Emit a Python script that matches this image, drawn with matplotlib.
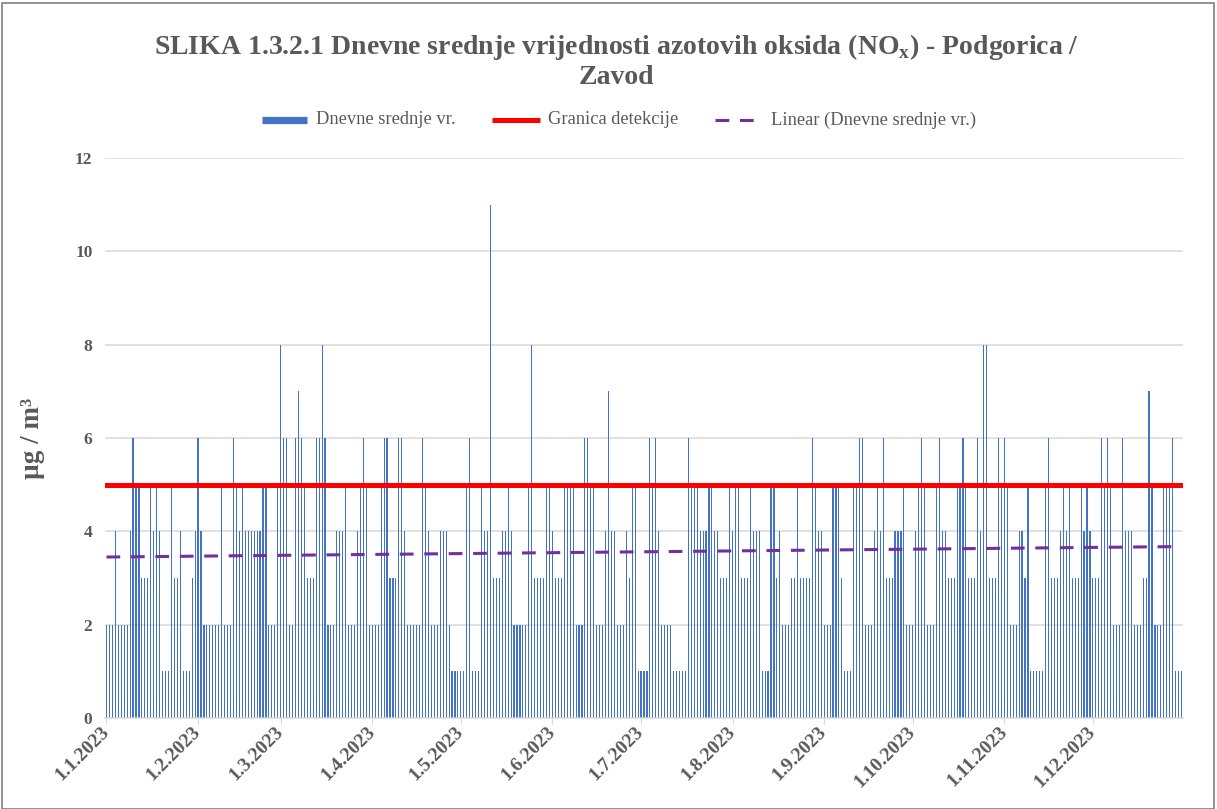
import numpy as np
import matplotlib
matplotlib.use("Agg")
import matplotlib.pyplot as plt
from matplotlib.lines import Line2D
from matplotlib.patches import Rectangle

plt.rcParams['font.family'] = ['Liberation Serif', 'DejaVu Serif']
plt.rcParams['mathtext.fontset'] = 'custom'
plt.rcParams['mathtext.rm'] = 'Liberation Serif'
plt.rcParams['mathtext.bf'] = 'Liberation Serif:bold'

# ---- data (daily means, µg/m3) ----
jan = [2,2,2,4,2,2,2,2,4,6,5,5,3,3,3,5,4,5,4,1,1,1,5,3,3,4,1,1,1,3,4]
feb = [6,4,2,2,2,2,2,2,5,2,2,2,6,5,4,5,4,4,4,4,4,4,5,5,2,2,2,5]
mar = [8,6,6,2,2,6,7,6,5,3,3,3,6,6,8,6,2,2,2,4,4,4,5,2,2,2,4,5,6,5,2]
apr = [2,2,2,5,6,6,3,3,3,6,6,4,2,2,2,2,2,6,5,4,2,2,2,4,4,4,2,1,1,1]
may = [1,1,5,6,1,1,1,5,4,4,11,3,3,3,4,4,5,4,2,2,2,2,2,5,8,3,3,3,3,5,5]
jun = [4,3,3,3,5,5,5,5,2,2,2,6,6,5,5,2,2,2,4,7,4,4,2,2,2,4,3,5,5,1]
jul = [1,1,1,6,5,6,4,2,2,2,2,1,1,1,1,1,6,5,5,5,4,4,4,5,5,4,4,3,3,3,5]
aug = [4,5,5,3,3,3,5,4,4,4,1,1,1,5,5,3,4,2,2,2,3,3,5,3,3,3,3,6,5,4,4]
sep = [2,2,2,5,5,5,3,1,1,1,5,5,6,6,2,2,2,4,5,4,6,3,3,3,4,4,4,5,2,2]
oct_ = [2,4,5,6,5,2,2,2,5,6,4,4,3,3,3,5,5,6,5,3,3,3,6,4,8,8,3,3,3,6,5]
nov = [6,5,2,2,2,4,4,3,5,1,1,1,1,1,5,6,3,3,3,4,5,4,5,3,3,3,5,4,5,4]
dec = [3,3,3,6,5,6,5,2,2,2,6,4,4,4,2,2,2,3,3,7,5,2,2,2,5,5,5,6,1,1,1]

months = [jan, feb, mar, apr, may, jun, jul, aug, sep, oct_, nov, dec]
values = np.array([v for m in months for v in m], dtype=float)
days = np.arange(len(values))

detection_limit = 5
tick_labels = ['1.1.2023', '1.2.2023', '1.3.2023', '1.4.2023', '1.5.2023', '1.6.2023',
               '1.7.2023', '1.8.2023', '1.9.2023', '1.10.2023', '1.11.2023', '1.12.2023']
month_lengths = [len(m) for m in months]
tick_pos = np.concatenate([[0], np.cumsum(month_lengths)[:-1]])

title_line1 = r'SLIKA 1.3.2.1 Dnevne srednje vrijednosti azotovih oksida (NO$_\mathbf{x}$) - Podgorica /'
title_line2 = 'Zavod'
legend_labels = ['Dnevne srednje vr.', 'Granica detekcije', 'Linear (Dnevne srednje vr.)']

BLUE = '#4472C4'
RED = '#FF0000'
PURPLE = '#7030A0'
GRAY = '#595959'
DASH = (0, (4.5, 3.5))

W, H = 1217, 809
fig = plt.figure(figsize=(W / 100, H / 100), dpi=100)
fig.patch.set_facecolor('white')

ax = fig.add_axes([105 / W, (H - 718) / H, 1078 / W, 560 / H])

ax.bar(days, values, width=0.38, color=BLUE, zorder=2, linewidth=0)
ax.axhline(detection_limit, color=RED, lw=3.6, zorder=3)
coef = np.polyfit(days, values, 1)
trend = np.polyval(coef, days)
ax.plot(days, trend, color=PURPLE, lw=2.2, ls=DASH, zorder=4)

ax.set_xlim(-0.5, len(values) - 0.5)
ax.set_ylim(0, 12)
ax.set_yticks(np.arange(0, 13, 2))
ax.yaxis.grid(True, color='#D9D9D9', lw=1.1, zorder=0)
ax.set_axisbelow(True)
for s in ['left', 'right', 'top']:
    ax.spines[s].set_visible(False)
ax.spines['bottom'].set_color('#D9D9D9')
ax.spines['bottom'].set_linewidth(1.1)

ax.set_xticks(tick_pos)
ax.set_xticklabels(tick_labels, rotation=45, ha='right', va='center', rotation_mode='anchor',
                   fontsize=14, fontweight='bold', color=GRAY)
ax.tick_params(axis='x', length=4, color='#D9D9D9', pad=4)
ax.tick_params(axis='y', length=0, pad=9, labelsize=12.5, labelcolor=GRAY)
for lbl in ax.get_yticklabels():
    lbl.set_fontweight('bold')

ax.set_ylabel('µg / m³', fontsize=19.5, fontweight='bold', color=GRAY)
ax.yaxis.set_label_coords((45 - 105) / 1078, 0.5)

fig.text(616 / W, 1 - 47 / H, title_line1, ha='center', va='center',
         fontsize=20, fontweight='bold', color=GRAY)
fig.text(616 / W, 1 - 77 / H, title_line2, ha='center', va='center',
         fontsize=20, fontweight='bold', color=GRAY)

# legend drawn in figure pixel positions
ly = 1 - 120 / H
def px(x):
    return x / W
fig.add_artist(Line2D([px(262), px(307)], [ly, ly], color=BLUE, lw=5.2, solid_capstyle='butt'))
fig.add_artist(Line2D([px(492), px(540)], [ly, ly], color=RED, lw=3.6, solid_capstyle='butt'))
fig.add_artist(Line2D([px(715), px(762)], [ly, ly], color=PURPLE, lw=2.2, ls=DASH))
for x0, lab in zip([316, 548, 771], legend_labels):
    fig.text(px(x0), ly, lab, ha='left', va='center', fontsize=13.3, color=GRAY)

fig.patches.append(Rectangle((2 / W, 0), (W - 5) / W, 1 - 3 / H, transform=fig.transFigure,
                             fill=False, edgecolor='#7F7F7F', lw=1.2))

fig.savefig('out.png', dpi=100)
